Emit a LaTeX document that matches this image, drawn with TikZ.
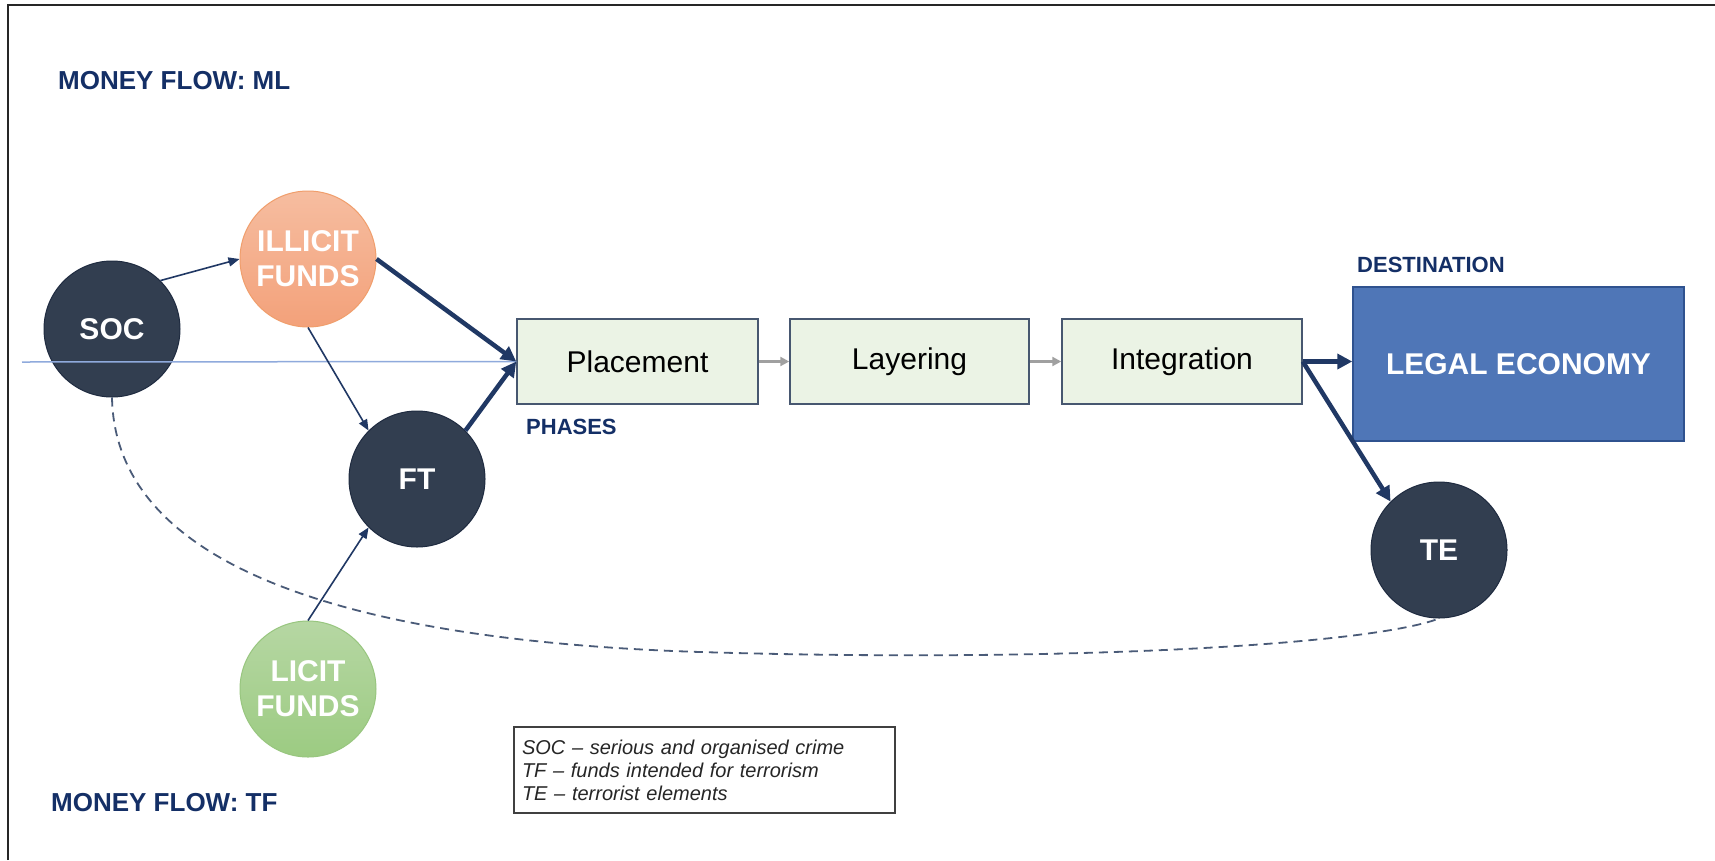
\documentclass[tikz,border=0pt]{standalone}
\usepackage{fontspec}
\setmainfont{Liberation Sans}
\usetikzlibrary{arrows.meta}

\definecolor{navytext}{HTML}{142F66}
\definecolor{flowline}{HTML}{203864}
\definecolor{dotfill}{HTML}{323E50}
\definecolor{dotline}{HTML}{1F2B40}
\definecolor{illicittop}{HTML}{F6BDA0}
\definecolor{illicitbot}{HTML}{F3A17A}
\definecolor{illicitline}{HTML}{F09E6C}
\definecolor{licittop}{HTML}{B6D7A3}
\definecolor{licitbot}{HTML}{9CCB82}
\definecolor{licitline}{HTML}{98C67F}
\definecolor{phasefill}{HTML}{EBF3E5}
\definecolor{phaseline}{HTML}{475770}
\definecolor{legalfill}{HTML}{4F76B7}
\definecolor{legalline}{HTML}{2F528F}
\definecolor{axisblue}{HTML}{8FAADC}
\definecolor{stepgray}{HTML}{A0A0A0}
\definecolor{dashcol}{HTML}{4A5B78}

\begin{document}
\begin{tikzpicture}[x=1pt,y=-1pt,
  dot/.style={circle, minimum size=136pt, inner sep=0pt, align=center,
    text=white, font=\bfseries\fontsize{30}{35}\selectfont},
  darkdot/.style={dot, fill=dotfill, draw=dotline, line width=1pt},
  illicitdot/.style={dot, top color=illicittop, bottom color=illicitbot, draw=illicitline, line width=1pt},
  licitdot/.style={dot, top color=licittop, bottom color=licitbot, draw=licitline, line width=1pt},
  phasebox/.style={rectangle, minimum height=85pt, inner sep=0pt, fill=phasefill,
    draw=phaseline, line width=1.5pt, font=\fontsize{30}{34}\selectfont},
  heading/.style={anchor=west, inner sep=0pt, text=navytext, font=\bfseries\fontsize{26}{30}\selectfont},
  subheading/.style={anchor=west, inner sep=0pt, text=navytext, font=\bfseries\fontsize{22}{26}\selectfont},
  thinflow/.style={draw=flowline, line width=1.6pt, -{Triangle[length=11pt,width=9pt]}},
  thickflow/.style={draw=flowline, line width=4.5pt, -{Triangle[length=15pt,width=15pt]}},
  stepflow/.style={draw=stepgray, line width=2.5pt, -{Triangle[length=9pt,width=9pt]}},
]
\useasboundingbox (0,0) rectangle (1715,860);
\fill[white] (0,0) rectangle (1715,860);

% outer frame (top and left edges)
\draw[line width=2pt, black!85] (8,860) -- (8,5) -- (1715,5);

% headings
\node[heading] (mlhead) at (58,81) {MONEY FLOW: ML};
\node[heading] (tfhead) at (51,803) {MONEY FLOW: TF};

% phase boxes
\node[phasebox, minimum width=241pt] (place) at (637.5,361.5) {Placement};
\node[phasebox, minimum width=239pt] (layer) at (909.5,361.5) {Layering};
\node[phasebox, minimum width=240pt] (integ) at (1182,361.5) {Integration};
\node[subheading] (phases) at (526,427) {PHASES};

% destination
\node[rectangle, minimum width=331pt, minimum height=154pt, inner sep=0pt,
  fill=legalfill, draw=legalline, line width=1.5pt, text=white,
  font=\bfseries\fontsize{30}{34}\selectfont] (legal) at (1518.5,364) {LEGAL ECONOMY};
\node[subheading] (dest) at (1357,265) {DESTINATION};

% actors and fund sources
\node[darkdot] (soc) at (112,329) {SOC};
\node[illicitdot] (illicit) at (308,259) {ILLICIT\\FUNDS};
\node[darkdot] (ft) at (417,479) {FT};
\node[licitdot] (licit) at (308,689) {LICIT\\FUNDS};
\node[darkdot] (te) at (1439,550) {TE};

% axis line into the phases
\coordinate (axisstart) at (22,362);
\draw[axisblue, line width=1.5pt] (axisstart) -- (place.west);

% dashed link from SOC to TE
\coordinate (dip) at (700,652);
\draw[dashcol, line width=1.8pt, dash pattern=on 9pt off 6pt]
  (soc.south) .. controls (115,560) and (330,640) .. (dip)
  .. controls (1060,663) and (1370,645) .. (te.south);

% money flows
\draw[thinflow] (soc.45) -- (illicit.west);
\draw[thinflow] (illicit.south) -- (ft.135);
\draw[thinflow] (licit.north) -- (ft.225);
\draw[thickflow] (illicit.east) -- (place.west);
\draw[thickflow] (ft.45) -- (place.west);
\draw[stepflow] (place.east) -- (layer.west);
\draw[stepflow] (layer.east) -- (integ.west);
\draw[thickflow] (integ.east) -- (integ.east -| legal.west);
\draw[thickflow] (integ.east) -- (te.135);

% legend
\node[rectangle, draw=black!75, line width=1.5pt, minimum height=86pt,
  text width=365pt, inner xsep=8pt, inner ysep=0pt, align=left, text=black!85,
  font=\itshape\fontsize{20}{23}\selectfont] (legend) at (704.5,770)
  {SOC – serious and organised crime\\
   TF – funds intended for terrorism\\
   TE – terrorist elements};
\end{tikzpicture}
\end{document}
